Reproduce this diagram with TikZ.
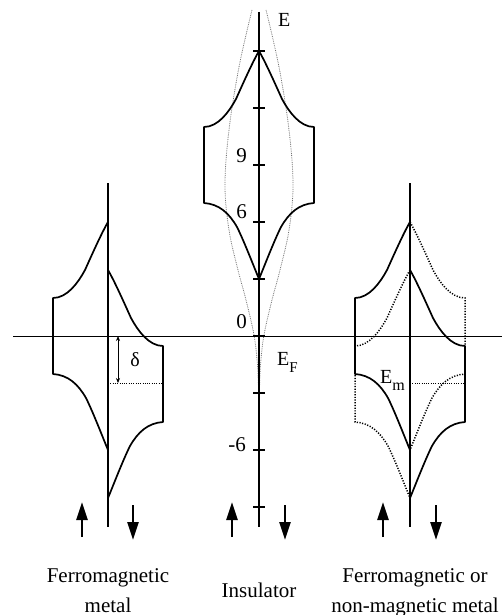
\documentclass[tikz,border=0pt]{standalone}
\usepackage{fontspec}
\setmainfont{Liberation Serif}
\usetikzlibrary{arrows.meta}
\newcommand\dosband[4]{%
  \draw[#4, shift={(#1,#2)}, xscale=#3]
    (0,0) .. controls (-7,12) and (-18,37) .. (-23,48)
    .. controls (-30,61) and (-41,76) .. (-55,76)
    -- (-55,152) .. controls (-40,153) and (-30,162) .. (-22,176)
    .. controls (-15,190) and (-5,216) .. (0,228);}
\begin{document}
\begin{tikzpicture}[x=1pt,y=-1pt,
  axis/.style={line width=1.8pt},
  sideaxis/.style={line width=1.3pt},
  fermi/.style={line width=0.9pt},
  dos/.style={line width=1.7pt, line join=round},
  dosdot/.style={line width=1.5pt, dash pattern=on 1.2pt off 1.5pt},
  guide/.style={line width=0.8pt, dash pattern=on 1pt off 1.3pt},
  ghost/.style={line width=0.8pt, black!55, dash pattern=on 0.8pt off 1pt},
  tickmark/.style={line width=1.5pt},
  spin/.style={line width=2.6pt, -{Triangle[length=18pt,width=11pt]}},
  darr/.style={line width=0.7pt, {Stealth[length=5pt,width=4pt]}-{Stealth[length=5pt,width=4pt]}},
  lbl/.style={font=\fontsize{21}{25}\selectfont, inner sep=0pt},
  sublbl/.style={font=\fontsize{20}{24}\selectfont, inner sep=0pt},
]
\useasboundingbox (0,0) rectangle (502,615);

% ghost (gray dotted) curves of the insulator
\draw[ghost] plot[smooth, tension=0.6] coordinates {
  (252,10) (239,67) (229,130) (225,185) (229,230) (238,270) (246,300)
  (254,335) (257.5,365) (259,395) (260.5,365) (264,335) (272,300)
  (280,270) (289,230) (293,185) (289,130) (279,67) (266,10)};

% Fermi level line
\draw[fermi] (13,336) -- (502,336);

% axes
\draw[axis] (259,12) -- (259,527);
\draw[sideaxis] (108,183) -- (108,527);
\draw[sideaxis] (410,183) -- (410,527);

% ticks on the central axis
\foreach \yy in {51,108,...,507} \draw[tickmark] (253,\yy) -- (265,\yy);

% tick labels
\node[lbl, anchor=base east] (n9) at (247,162) {9};
\node[lbl, anchor=base east] (n6) at (247,218) {6};
\node[lbl, anchor=base east] (n0) at (247,328) {0};
\node[lbl, anchor=base east] (nm6) at (246,451) {-6};
\node[sublbl, anchor=base west] (nE) at (278,27) {E};
\node[sublbl, anchor=base west] (nEF) at (277,365) {E\raisebox{-7pt}{\fontsize{15}{15}\selectfont F}};

% insulator band
\dosband{259}{51}{1}{dos}
\dosband{259}{51}{-1}{dos}

% ferromagnetic metal
\dosband{108}{222}{1}{dos}
\dosband{108}{270}{-1}{dos}
\draw[guide] (108,383) -- (163,383);
\coordinate (dtop) at (118,336);
\coordinate (dbot) at (118,383);
\draw[darr] (dtop) -- (dbot);
\node[sublbl] (ndelta) at (135,360) {δ};

% ferromagnetic or non-magnetic metal
\dosband{410}{270}{1}{dosdot}
\dosband{410}{222}{-1}{dosdot}
\dosband{410}{222}{1}{dos}
\dosband{410}{270}{-1}{dos}
\draw[guide] (410,383) -- (465,383);
\node[sublbl, anchor=base west] (nEm) at (380,383) {E\raisebox{-7pt}{\fontsize{16}{16}\selectfont m}};

% spin arrows
\draw[spin] (82,537) -- (82,502);
\draw[spin] (133,505) -- (133,540);
\draw[spin] (232,537) -- (232,502);
\draw[spin] (285,505) -- (285,540);
\draw[spin] (383,537) -- (383,502);
\draw[spin] (436,505) -- (436,540);

% captions
\node[lbl, anchor=base] (lf1) at (108,582) {Ferromagnetic};
\node[lbl, anchor=base] (lf2) at (108,612) {metal};
\node[lbl, anchor=base] (li) at (259,597) {Insulator};
\node[lbl, anchor=base] (lr1) at (415,582) {Ferromagnetic or};
\node[lbl, anchor=base] (lr2) at (415,612) {non-magnetic metal};
\end{tikzpicture}
\end{document}
